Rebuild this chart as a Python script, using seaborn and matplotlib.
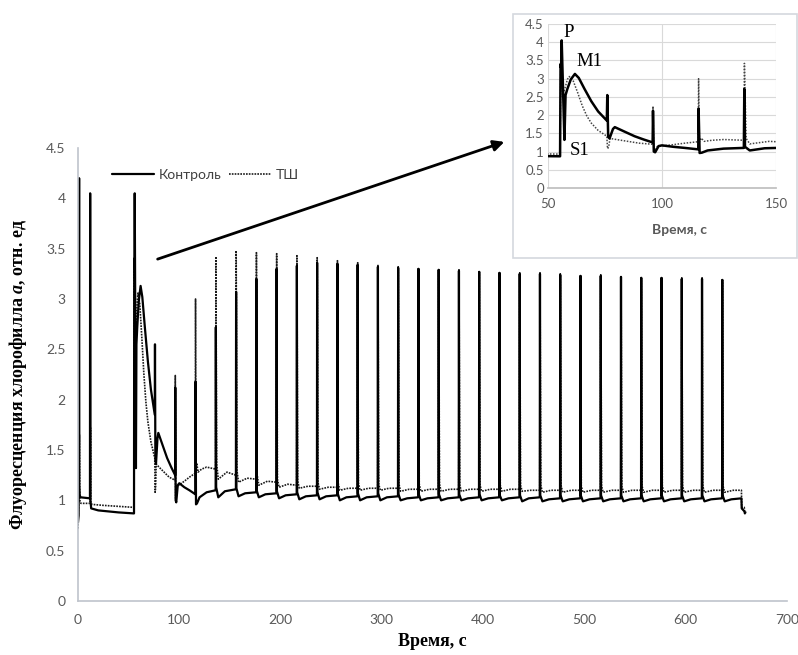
import matplotlib
matplotlib.use("Agg")
import matplotlib.pyplot as plt
import matplotlib.patches as mpatches
from matplotlib.ticker import FuncFormatter
import seaborn as sns
import pandas as pd

# ---------------- data ----------------
series_names = ["Контроль", "ТШ"]

# irregular first part (0 .. 136 s)
ctrl_t_early = [0, 0.6, 1.1, 1.3, 1.7, 2.5, 11.8, 12.0, 12.3, 13.0, 20, 30, 40, 55.3,
                55.5, 55.75, 56.0, 57.2, 57.7, 58.5, 60.0, 61.8, 63.5, 66.0, 69.0, 72.0,
                75.8, 76.0, 76.4, 77.0, 78.5, 79.3, 81.0, 84.5, 88.0, 92.0, 95.9, 96.05,
                96.4, 97.0, 98.5, 100, 105, 110, 115.9, 116.05, 116.5, 117.5, 120, 127, 135.8]
ctrl_y_early = [0.78, 0.85, 4.20, 1.15, 1.05, 1.03, 1.02, 4.05, 1.00, 0.92, 0.90, 0.89, 0.88, 0.87,
                3.40, 3.30, 4.05, 1.32, 2.55, 2.72, 2.98, 3.13, 3.02, 2.72, 2.38, 2.10,
                1.85, 2.55, 1.40, 1.36, 1.62, 1.67, 1.62, 1.52, 1.42, 1.33, 1.25, 2.12,
                1.00, 0.98, 1.15, 1.17, 1.13, 1.10, 1.06, 2.18, 0.96, 0.97, 1.03, 1.08, 1.10]

tsh_t_early = [0, 0.5, 1.4, 1.7, 2.0, 3.0, 12.0, 12.3, 12.6, 13.5, 25, 40, 55.3,
               55.6, 56.3, 57.5, 58.5, 59.3, 61.0, 63.0, 65.0, 67.0, 69.0, 72.0, 75.8,
               76.1, 76.6, 77.2, 80, 85, 90, 95.9, 96.05, 96.4, 97.0, 98.0, 105, 110,
               115.9, 116.05, 116.4, 117.2, 118.5, 122, 127, 135.8]
tsh_y_early = [0.72, 1.00, 1.65, 1.05, 0.98, 0.97, 0.97, 1.72, 0.98, 0.96, 0.95, 0.94, 0.93,
               3.38, 2.50, 2.75, 2.98, 3.06, 2.95, 2.62, 2.26, 1.98, 1.78, 1.58, 1.42,
               1.08, 1.12, 1.36, 1.33, 1.28, 1.23, 1.20, 2.24, 1.02, 1.05, 1.14, 1.19, 1.23,
               1.27, 3.00, 1.26, 1.37, 1.28, 1.31, 1.33, 1.31]

# regular flashes (136 .. 636 s)
spike_times = [136, 156, 176, 196, 216, 236, 256, 276, 296, 316, 336, 356, 376,
               396, 416, 436, 456, 476, 496, 516, 536, 556, 576, 596, 616, 636]

ctrl_peak = [2.72, 3.07, 3.20, 3.30, 3.33, 3.36, 3.35, 3.34, 3.32, 3.31, 3.30, 3.29, 3.28,
             3.27, 3.26, 3.25, 3.25, 3.24, 3.23, 3.23, 3.22, 3.21, 3.21, 3.20, 3.20, 3.19]
ctrl_pre = [1.10, 1.11, 1.08, 1.07, 1.06, 1.05, 1.05, 1.04, 1.04, 1.04, 1.03, 1.03, 1.03,
            1.03, 1.03, 1.03, 1.03, 1.02, 1.02, 1.02, 1.02, 1.02, 1.02, 1.02, 1.02, 1.02]
ctrl_jump = [1.13, 1.12, 1.10, 1.09, 1.08, 1.08, 1.07, 1.07, 1.07, 1.06, 1.06, 1.06, 1.06,
             1.06, 1.05, 1.05, 1.05, 1.05, 1.05, 1.05, 1.05, 1.05, 1.05, 1.05, 1.05, 1.05]
ctrl_dip = [1.03, 1.04, 1.03, 1.02, 1.01, 1.01, 1.00, 1.00, 1.00, 1.00, 1.00, 1.00, 1.00,
            1.00, 1.00, 0.99, 0.99, 0.99, 0.99, 0.99, 0.99, 0.99, 0.99, 0.99, 0.99, 0.99]
ctrl_rec = [1.09, 1.07, 1.06, 1.05, 1.04, 1.04, 1.03, 1.03, 1.03, 1.02, 1.02, 1.02, 1.02,
            1.02, 1.02, 1.02, 1.01, 1.01, 1.01, 1.01, 1.01, 1.01, 1.01, 1.01, 1.01, 1.01]

tsh_peak = [3.42, 3.48, 3.46, 3.45, 3.43, 3.41, 3.38, 3.36, 3.34, 3.32, 3.31, 3.30, 3.29,
            3.28, 3.27, 3.26, 3.26, 3.25, 3.24, 3.24, 3.23, 3.22, 3.22, 3.21, 3.21, 3.20]
tsh_pre = [1.31, 1.25, 1.21, 1.18, 1.15, 1.14, 1.13, 1.12, 1.12, 1.12, 1.11, 1.11, 1.11,
           1.11, 1.11, 1.11, 1.10, 1.10, 1.10, 1.10, 1.10, 1.10, 1.10, 1.10, 1.10, 1.10]
tsh_bump = [1.36, 1.30, 1.25, 1.21, 1.19, 1.18, 1.17, 1.17, 1.16, 1.16, 1.16, 1.16, 1.15,
            1.15, 1.15, 1.15, 1.15, 1.15, 1.14, 1.14, 1.14, 1.14, 1.14, 1.14, 1.14, 1.14]
tsh_dip = [1.21, 1.18, 1.15, 1.13, 1.12, 1.11, 1.10, 1.10, 1.10, 1.09, 1.09, 1.09, 1.09,
           1.09, 1.09, 1.09, 1.08, 1.08, 1.08, 1.08, 1.08, 1.08, 1.08, 1.08, 1.08, 1.08]
tsh_mid = [1.28, 1.22, 1.19, 1.16, 1.14, 1.13, 1.12, 1.12, 1.12, 1.11, 1.11, 1.11, 1.11,
           1.11, 1.11, 1.10, 1.10, 1.10, 1.10, 1.10, 1.10, 1.10, 1.10, 1.10, 1.10, 1.10]

# end of the record
ctrl_t_end = [655.0, 655.3, 658.0, 658.4]
ctrl_y_end = [1.02, 0.92, 0.89, 0.87]
tsh_t_end = [655.0, 655.3, 657.8, 658.2, 660.0]
tsh_y_end = [1.10, 0.93, 0.93, 0.88, 0.88]

main_xticks = [0, 100, 200, 300, 400, 500, 600, 700]
main_yticks = [0, 0.5, 1, 1.5, 2, 2.5, 3, 3.5, 4, 4.5]
inset_xticks = [50, 100, 150]


# ---------------- assemble series ----------------
def build(t0, y0, pre, peak, a, b, c, offs, t_end, y_end):
    t, y = list(t0), list(y0)
    for k, s in enumerate(spike_times):
        t += [s - 0.1, s + offs[0], s + offs[1], s + offs[2], s + offs[3]]
        y += [pre[k], peak[k], a[k], b[k], c[k]]
    t += list(t_end)
    y += list(y_end)
    return t, y


ct, cy = build(ctrl_t_early, ctrl_y_early, ctrl_pre, ctrl_peak, ctrl_jump, ctrl_dip,
               ctrl_rec, (0.1, 0.4, 2.5, 9.0), ctrl_t_end, ctrl_y_end)
tt, ty = build(tsh_t_early, tsh_y_early, tsh_pre, tsh_peak, tsh_bump, tsh_dip,
               tsh_mid, (0.15, 0.9, 2.5, 11.0), tsh_t_end, tsh_y_end)

df_ctrl = pd.DataFrame({"t": ct, "y": cy, "series": series_names[0]})
df_tsh = pd.DataFrame({"t": tt, "y": ty, "series": series_names[1]})

# ---------------- style ----------------
sns.set_theme(style="white")
plt.rcParams["font.family"] = ["Lato", "DejaVu Sans"]
plt.rcParams["mathtext.fontset"] = "custom"
plt.rcParams["mathtext.rm"] = "Liberation Serif:bold"
plt.rcParams["mathtext.bf"] = "Liberation Serif:bold"
plt.rcParams["mathtext.it"] = "Liberation Serif:bold:italic"
plt.rcParams["mathtext.bfit"] = "Liberation Serif:bold:italic"

TICK_C = "#595959"
SPINE_C = "#BFC4CC"
W, H = 798, 655

fig = plt.figure(figsize=(W / 100, H / 100), dpi=100)
fig.patch.set_facecolor("white")

# main axes
ax = fig.add_axes([78 / W, 1 - 601 / H, 709 / W, 453 / H])
sns.lineplot(data=df_tsh, x="t", y="y", ax=ax, sort=False, estimator=None,
             color="#1a1a1a", linewidth=1.2, legend=False)
sns.lineplot(data=df_ctrl, x="t", y="y", ax=ax, sort=False, estimator=None,
             color="black", linewidth=1.6, legend=False)
l_tsh, l_ctrl = ax.get_lines()[0], ax.get_lines()[1]
l_tsh.set_linestyle((0, (1, 0.7)))

ax.set_xlim(0, 700)
ax.set_ylim(0, 4.5)
ax.set_xticks(main_xticks)
ax.set_yticks(main_yticks)
fmt = FuncFormatter(lambda v, p: f"{v:g}")
ax.xaxis.set_major_formatter(fmt)
ax.yaxis.set_major_formatter(fmt)
ax.tick_params(axis="both", length=0, labelsize=10, labelcolor=TICK_C)
ax.tick_params(axis="y", pad=9)
ax.tick_params(axis="x", pad=9)
for side in ("top", "right"):
    ax.spines[side].set_visible(False)
for side in ("left", "bottom"):
    ax.spines[side].set_color(SPINE_C)
    ax.spines[side].set_linewidth(1.2)

ax.set_xlabel("Время, с", fontsize=13, fontweight="bold", family="Liberation Serif", color="black")
ax.xaxis.set_label_coords(0.5, (601 - 641) / 453)
ax.xaxis.label.set_va("center")
ax.set_ylabel(r"Флуоресценция хлорофилла $\mathit{a}$, отн. ед", fontsize=13,
              fontweight="bold", family="Liberation Serif", color="black")
ax.yaxis.set_label_coords((18 - 78) / 709, 0.5)
ax.yaxis.label.set_va("center")

leg = ax.legend([l_ctrl, l_tsh], series_names, ncol=2, frameon=False, loc="center",
                bbox_to_anchor=(0.18, 0.94), handlelength=3.0, handletextpad=0.4,
                columnspacing=0.5, fontsize=10, labelcolor="#404040")

# inset frame
frame = mpatches.Rectangle((513 / W, 1 - 258 / H), (797 - 513) / W, (258 - 14) / H,
                           transform=fig.transFigure, facecolor="white",
                           edgecolor="#D4D8DE", linewidth=1.2, zorder=1)
fig.add_artist(frame)

# inset axes
axi = fig.add_axes([548 / W, 1 - 188 / H, 228 / W, 164 / H])
axi.set_zorder(2)
axi.patch.set_alpha(0)
sns.lineplot(data=df_tsh, x="t", y="y", ax=axi, sort=False, estimator=None,
             color="#444444", linewidth=1.1, legend=False)
sns.lineplot(data=df_ctrl, x="t", y="y", ax=axi, sort=False, estimator=None,
             color="black", linewidth=1.8, legend=False)
axi.get_lines()[0].set_linestyle((0, (1, 1)))
axi.set_xlim(50, 150)
axi.set_ylim(0, 4.5)
axi.set_xticks(inset_xticks)
axi.set_yticks(main_yticks)
axi.xaxis.set_major_formatter(fmt)
axi.yaxis.set_major_formatter(fmt)
axi.tick_params(axis="both", length=0, labelsize=9.5, labelcolor=TICK_C, pad=3)
axi.tick_params(axis="x", pad=7)
axi.grid(True, color="#D9D9D9", linewidth=0.8)
for side in ("top", "right", "left"):
    axi.spines[side].set_visible(False)
axi.spines["bottom"].set_color("#BFBFBF")
axi.set_xlabel("Время, с", fontsize=10, fontweight="bold", color=TICK_C)
axi.xaxis.set_label_coords((680 - 548) / 228, (188 - 230) / 164)
axi.xaxis.label.set_va("center")
axi.set_ylabel("")

for txt, xx, yy in [("P", 58.9, 4.28), ("M1", 68.4, 3.47), ("S1", 63.7, 1.03)]:
    axi.text(xx, yy, txt, fontsize=13.5, family="Liberation Serif", color="black",
             ha="center", va="center")

# arrow
arrow = mpatches.FancyArrowPatch((155 / W, 1 - 260 / H), (507 / W, 1 - 141 / H),
                                 transform=fig.transFigure, arrowstyle="-|>",
                                 mutation_scale=16, linewidth=2.0, color="black", zorder=3)
fig.add_artist(arrow)

fig.savefig("out.png", dpi=100, facecolor="white")
